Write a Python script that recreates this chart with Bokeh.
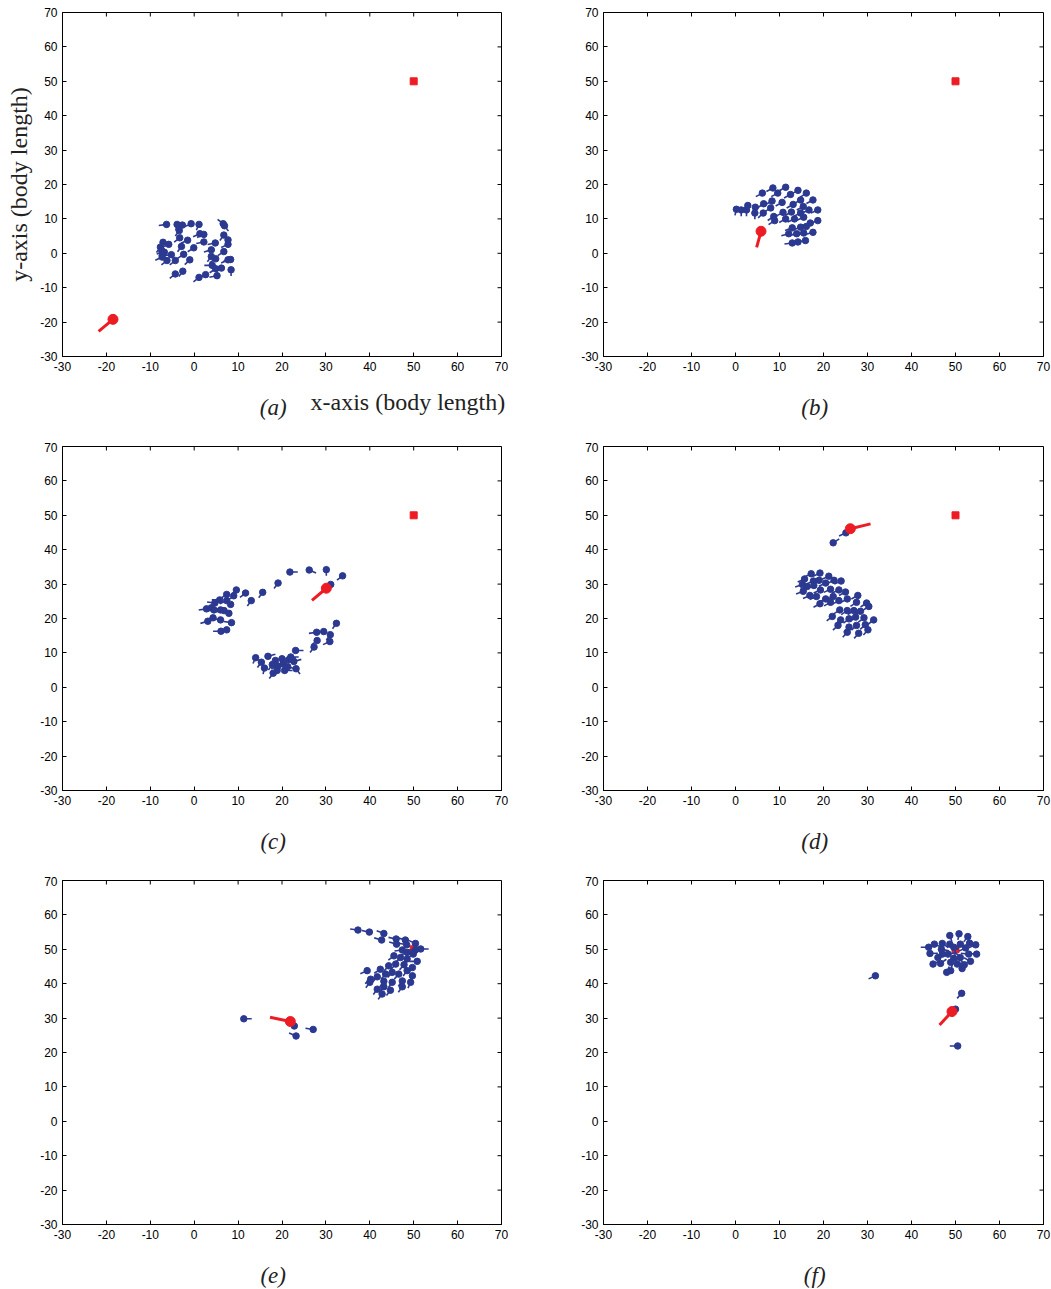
import numpy as np
from bokeh.plotting import figure
from bokeh.layouts import column, row
from bokeh.models import Label, FixedTicker, Range1d
from bokeh.embed import file_html
from bokeh.resources import INLINE

# ---------------- data ----------------
ticks = list(range(-30, 71, 10))
tick_labels = {t: str(t) for t in ticks}
target_x = [50]
target_y = [50]
captions = ["(a)", "(b)", "(c)", "(d)", "(e)", "(f)"]

# panel (a): prey positions (head) and headings (deg)
a_x = [-6.3, -3.9, -2.7, -3.4, -0.7, 1.1, 6.6, 6.9, -3.3, 1.3, 2.2, 6.75, -7.1, -7.7, -5.8,
       -2.9, -0.1, 2.2, 4.8, 7.7, 7.7, -6.8, -5.2, -2.4, 3.9, 6.75, -6.2, -7.3, -4.3, -1.0,
       4.9, 3.9, 7.7, 8.3, 4.1, 4.9, 6.2, 8.4, -4.3, -2.6, 1.1, 2.6, 5.2, -7.4, -1.5]
a_y = [8.4, 8.4, 8.2, 6.6, 8.6, 8.4, 8.6, 8.0, 4.5, 5.7, 5.5, 5.3, 3.2, 1.8, 2.6,
       2.0, 1.6, 3.3, 3.0, 3.9, 2.6, 0.3, -0.4, -0.3, 1.0, 0.5, -2.1, -1.1, -2.1, -1.9,
       -1.6, -0.9, -1.9, -1.8, -3.5, -4.5, -4.3, -4.8, -6.0, -5.2, -7.0, -6.2, -6.5, 0.8, 3.8]
a_h = [10, 80, 45, 60, 30, 70, -45, 120, 45, 30, 30, 60, 80, 60, 30,
       60, 40, 15, 15, 80, 30, 15, 10, 40, 20, 40, 45, 30, 45, 50,
       40, 60, 30, 20, 0, 40, 0, 90, 45, 60, 45, 30, 15, 70, 30]
a_pred = (-18.5, -19.2, 47)

# panel (b)
b_x = [8.5, 11.4, 14.2, 16.1, 6.1, 9.6, 12.5, 14.8, 17.6, 18.7, 1.3, 2.5, 2.8, 4.5, 6.4,
       8.3, 10.6, 13.1, 15.4, 16.7, 8.0, 6.3, 8.7, 10.8, 12.7, 14.8, 8.9, 11.4, 13.4, 15.5,
       17.0, 18.7, 12.9, 14.8, 16.1, 17.6, 12.1, 13.9, 15.5, 14.2, 15.9, 12.9, 4.4, 0.2]
b_y = [19.0, 19.2, 18.3, 17.5, 17.5, 17.5, 17.1, 15.5, 15.5, 12.6, 12.6, 12.6, 13.9, 13.4, 14.4,
       15.2, 14.8, 14.2, 13.6, 12.6, 13.2, 11.7, 10.7, 11.9, 12.0, 11.7, 9.5, 10.0, 10.0, 10.5,
       8.8, 9.5, 7.4, 7.6, 7.8, 6.1, 5.7, 5.7, 5.9, 3.3, 3.7, 3.0, 11.7, 12.8]
b_h = [35, 35, 35, 40, 35, 35, 35, 35, 35, 30, 90, 90, 45, 70, 40,
       35, 35, 35, 35, 30, 40, 50, 40, 35, 35, 30, 40, 35, 30, 30,
       25, 25, 25, 25, 25, 20, 20, 20, 20, 10, 10, 10, 90, 80]
b_pred = (5.8, 6.4, 78)

# panel (c)
c_x = [21.8, 26.2, 30.1, 33.8, 31.1, 19.1, 15.6, 13.0, 11.7, 9.6,
       7.4, 9.0, 7.4, 8.3, 5.8, 3.9, 4.5, 6.0, 6.8, 7.9, 4.3, 6.0, 3.1, 8.5, 6.1, 7.4, 4.7, 2.8,
       32.4, 27.9, 29.5, 31.0, 28.0, 30.9, 27.3,
       23.1, 14.0, 16.8, 18.5, 20.0, 22.0, 22.7, 16.0, 17.8, 19.1, 20.3, 21.3, 23.2, 20.6, 18.0,
       18.9, 15.3, 21.5]
c_y = [33.5, 34.1, 34.2, 32.4, 29.9, 30.3, 27.6, 25.2, 27.4, 28.3,
       27.0, 26.6, 25.2, 24.1, 25.4, 23.1, 22.5, 22.5, 22.3, 21.5, 20.2, 19.6, 19.2, 18.8, 16.3, 16.7, 24.5, 22.8,
       18.6, 16.0, 16.2, 15.3, 13.6, 13.3, 11.7,
       10.7, 8.6, 9.0, 7.8, 8.3, 8.8, 7.5, 5.6, 6.6, 6.2, 6.8, 6.0, 5.4, 4.9, 4.1,
       4.9, 7.3, 8.0]
c_h = [180, 150, 90, 45, 45, 60, 60, 60, 45, 50,
       40, 45, 30, -30, 0, 20, 10, -20, 10, -30, 15, -10, 20, -10, 0, 10, -10, 10,
       60, 10, 10, 60, 45, 30, 60,
       180, 70, 200, 120, 100, 180, 200, 80, 60, 30, 90, 160, 120, 180, 60,
       20, 60, 200]
c_pred = (30.1, 28.8, 47)

# panel (d)
d_x = [25.1, 22.2,
       17.2, 19.2, 21.2, 15.7, 17.7, 19.0, 20.5, 22.4, 24.0, 15.2, 16.3, 17.8, 19.3, 21.6,
       23.5, 15.4, 16.9, 18.4, 20.5, 22.2, 25.0, 27.8, 19.2, 21.6, 23.5, 25.4, 27.5, 29.8,
       30.3, 22.0, 23.7, 25.4, 26.9, 28.4, 23.9, 25.8, 27.3, 29.2, 31.4, 23.3, 25.8, 27.5,
       29.5, 25.4, 28.0, 30.1]
d_y = [44.9, 42.0,
       33.0, 33.2, 32.3, 31.5, 30.9, 31.1, 30.3, 31.1, 30.9, 29.9, 29.3, 29.6, 28.3, 28.5,
       28.3, 27.9, 26.7, 26.4, 25.7, 26.4, 27.7, 26.7, 24.3, 24.7, 25.2, 25.7, 24.7, 24.5,
       23.5, 20.6, 22.5, 22.3, 22.3, 22.1, 19.6, 19.9, 20.4, 20.2, 19.6, 18.0, 17.5, 18.0,
       18.2, 16.0, 15.7, 16.7]
d_h = [30, 220,
       30, 30, 30, 30, 30, 30, 30, 30, 30, 25, 30, 30, 30, 30,
       30, 25, 30, 30, 30, 30, 35, 35, 35, 35, 35, 35, 40, 40,
       40, 45, 40, 40, 40, 40, 45, 45, 45, 45, 45, 50, 50, 50,
       50, 55, 55, 55]
d_pred = (26.1, 46.1, 197)

# panel (e)
e_x = [11.3, 22.8, 27.1, 23.2,
       37.3, 39.9, 43.2, 42.7, 46.0, 48.1, 50.4, 46.1, 48.4, 50.4, 51.6, 47.4, 48.5, 49.9,
       45.5, 47.0, 48.5, 50.8, 44.3, 45.9, 47.8, 49.7, 39.4, 42.4, 43.6, 45.1, 46.6, 48.5,
       41.7, 40.2, 43.2, 45.1, 47.4, 49.7, 40.0, 41.7, 43.2, 44.7, 47.4, 49.3, 42.8]
e_y = [29.8, 27.7, 26.7, 24.8,
       55.6, 55.0, 54.6, 52.7, 53.0, 52.7, 51.7, 51.5, 51.3, 49.8, 50.1, 49.8, 49.1, 48.6,
       48.1, 47.6, 47.2, 46.5, 45.2, 45.7, 45.5, 44.7, 43.8, 44.2, 42.8, 43.3, 42.8, 43.8,
       42.0, 41.3, 40.7, 40.4, 40.8, 42.3, 40.4, 38.4, 39.1, 38.1, 39.1, 40.4, 37.0]
e_h = [180, -25, -12, -28,
       -10, -15, -25, -20, -15, -20, -30, -20, -15, 0, 180, 10, 30, 40,
       45, 50, 50, 0, 55, 55, 55, 60, 30, 40, 55, 55, 55, 60,
       55, 45, 60, 60, 60, 70, 60, 60, 60, 60, 60, 70, 60]
e_pred = (21.9, 29.0, -15)

# panel (f)
f_x = [31.8, 51.4, 50.0, 50.5,
       48.7, 50.8, 52.8, 54.6, 54.8, 53.4, 51.5, 48.9, 48.0, 46.6, 44.9, 44.2, 43.9, 45.2,
       47.0, 48.7, 49.6, 51.1, 52.3, 53.0, 51.1, 49.6, 48.3, 47.0, 46.0, 50.4, 48.9, 53.2,
       46.8, 52.0]
f_y = [42.3, 37.2, 32.6, 21.9,
       54.0, 54.5, 53.7, 51.3, 48.6, 46.5, 44.4, 43.8, 43.3, 45.9, 45.7, 48.8, 50.6, 51.5,
       51.7, 51.5, 50.6, 51.5, 50.4, 48.6, 47.6, 47.4, 48.6, 48.6, 47.6, 45.7, 46.2, 51.8,
       50.0, 45.5]
f_h = [30, 55, 55, 0,
       105, 82, 59, 27, -5, -36, -72, -102, -109, -138, -147, 182, 0, 152,
       138, 118, 104, 66, 31, -8, -52, -104, -167, -172, -160, -83, -111, 40,
       165, -60]
f_pred = (49.2, 31.9, 54)

panels = [(a_x, a_y, a_h, a_pred), (b_x, b_y, b_h, b_pred), (c_x, c_y, c_h, c_pred),
          (d_x, d_y, d_h, d_pred), (e_x, e_y, e_h, e_pred), (f_x, f_y, f_h, f_pred)]

BLUE = "#2B3990"
RED = "#ED1C24"
TAIL_PREY = 1.8
TAIL_PRED = 4.8
TICK_PX = 4
FRAME_H = 344
SERIF = "Liberation Serif"


def style_axis(ax):
    ax.ticker = FixedTicker(ticks=ticks)
    ax.major_label_overrides = tick_labels
    ax.minor_tick_line_color = None
    ax.major_tick_in = TICK_PX
    ax.major_tick_out = 0
    ax.axis_line_color = "black"
    ax.major_tick_line_color = "black"
    ax.axis_line_width = 1
    ax.major_label_text_font = "Liberation Sans"
    ax.major_label_text_font_size = "12px"
    ax.major_label_text_color = "black"
    ax.major_label_standoff = 5


def col_geom(col):
    # width, left border, frame width, right border
    if col == 0:
        return 549, 62, 439, 48
    return 502, 54, 440, 8


def make_panel(i):
    bx, by, bh, pred = panels[i]
    col, rw = i % 2, i // 2
    w, bl, fw, br = col_geom(col)
    bt = 12 if rw == 0 else 4
    bb = 24
    h = bt + FRAME_H + bb
    p = figure(width=w, height=h, output_backend="svg", toolbar_location=None,
               x_range=Range1d(-30, 70), y_range=Range1d(-30, 70),
               min_border_left=bl, min_border_right=br, min_border_top=bt, min_border_bottom=bb)
    p.grid.visible = False
    p.outline_line_color = "black"
    p.outline_line_width = 1
    style_axis(p.xaxis[0])
    style_axis(p.yaxis[0])

    # inward ticks on the top and right edges of the box
    t = np.array(ticks, float)
    dy = TICK_PX * 100.0 / FRAME_H
    dx = TICK_PX * 100.0 / fw
    p.segment(t, np.full_like(t, 70), t, np.full_like(t, 70 - dy), line_color="black", line_width=1)
    p.segment(np.full_like(t, 70), t, np.full_like(t, 70 - dx), t, line_color="black", line_width=1)

    # target
    p.scatter(target_x, target_y, marker="square", size=7, color=RED)

    # prey
    bx = np.array(bx, float)
    by = np.array(by, float)
    th = np.radians(np.array(bh, float))
    p.segment(bx, by, bx - TAIL_PREY * np.cos(th), by - TAIL_PREY * np.sin(th),
              line_color=BLUE, line_width=1.6)
    p.scatter(bx, by, size=6.5, color=BLUE)

    # predator
    px, py, ph = pred
    a = np.radians(ph)
    p.segment([px], [py], [px - TAIL_PRED * np.cos(a)], [py - TAIL_PRED * np.sin(a)],
              line_color=RED, line_width=3)
    p.scatter([px], [py], size=10, color=RED)

    if i == 0:
        ya = p.yaxis[0]
        ya.axis_label = "y-axis (body length)"
        ya.axis_label_text_font = SERIF
        ya.axis_label_text_font_style = "normal"
        ya.axis_label_text_font_size = "24px"
        ya.axis_label_text_color = "#222222"
        ya.axis_label_standoff = 5
    return p


def make_caption(i):
    # caption strip below a panel; its frame spans the whole strip (x in pixels)
    col, rw = i % 2, i // 2
    w, bl, fw, br = col_geom(col)
    h = 62 if rw < 2 else 41
    c = figure(width=w, height=h, output_backend="svg", toolbar_location=None,
               x_range=Range1d(0, w), y_range=Range1d(-h, 0),
               min_border_left=0, min_border_right=0, min_border_top=0, min_border_bottom=0)
    c.axis.visible = False
    c.grid.visible = False
    c.outline_line_color = None
    cx = bl + fw * 0.48
    c.add_layout(Label(x=cx, y=-27, text=captions[i], text_align="center", text_baseline="middle",
                       text_font=SERIF, text_font_style="italic",
                       text_font_size="23px", text_color="#222222"))
    if i == 0:
        c.add_layout(Label(x=bl + fw * 0.565, y=-21, text="x-axis (body length)", text_align="left",
                           text_baseline="middle", text_font=SERIF,
                           text_font_size="24px", text_color="#222222"))
    return c


figs = [make_panel(i) for i in range(6)]
caps = [make_caption(i) for i in range(6)]
layout = column(row(figs[0], figs[1]), row(caps[0], caps[1]),
                row(figs[2], figs[3]), row(caps[2], caps[3]),
                row(figs[4], figs[5]), row(caps[4], caps[5]))

open("out.html", "w").write(file_html(layout, INLINE))
